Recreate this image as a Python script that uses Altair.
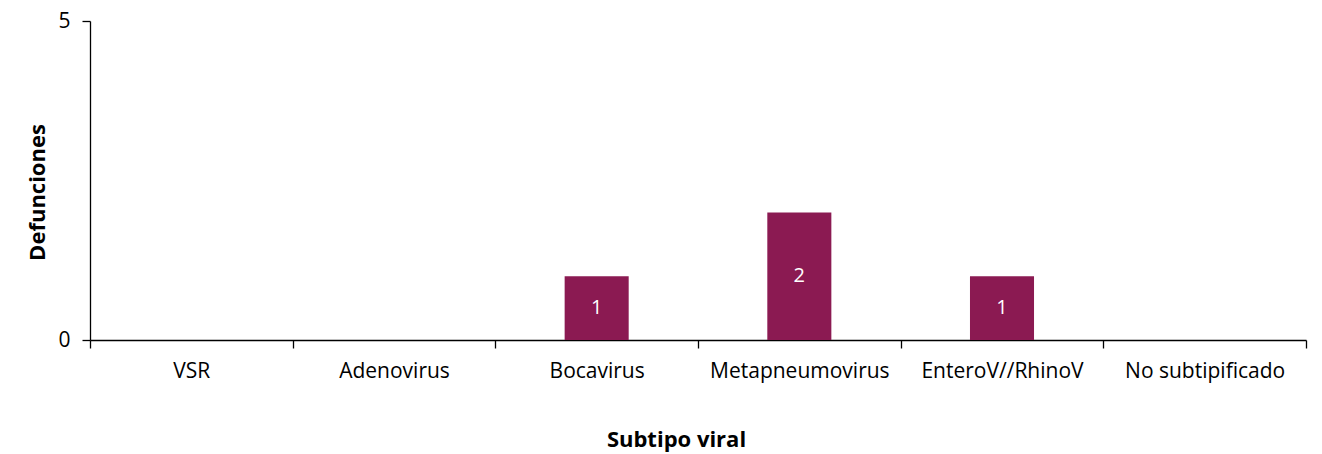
import altair as alt
import pandas as pd

categories = ["VSR", "Adenovirus", "Bocavirus", "Metapneumovirus", "EnteroV//RhinoV", "No subtipificado"]
defunciones = [0, 0, 1, 2, 1, 0]

df = pd.DataFrame({"cat": categories, "val": defunciones})
df["half"] = df["val"] / 2

FONT = "Open Sans"

x_axis = alt.Axis(
    title="Subtipo viral",
    labelAngle=0,
    labelFontSize=21,
    labelColor="#000000",
    labelFont=FONT,
    labelPadding=12,
    tickBand="extent",
    tickSize=8,
    tickColor="#000000",
    tickWidth=1.3,
    domainColor="#000000",
    domainWidth=1.3,
    grid=False,
    titleFont=FONT,
    titleFontSize=22,
    titleFontWeight="bold",
    titleColor="#000000",
    titleX=586,
    titleY=99,
    titleBaseline="middle",
    titleAnchor="middle",
    titleAlign="center",
)

y_axis = alt.Axis(
    title="Defunciones",
    values=[0, 5],
    format="d",
    grid=False,
    labelFontSize=21,
    labelColor="#000000",
    labelFont=FONT,
    labelPadding=12,
    tickSize=8,
    tickColor="#000000",
    tickWidth=1.3,
    domainColor="#000000",
    domainWidth=1.3,
    titleFont=FONT,
    titleFontSize=22,
    titleFontWeight="bold",
    titleColor="#000000",
    titleX=-53,
    titleY=171,
    titleAngle=-90,
    titleBaseline="middle",
    titleAlign="center",
)

x_scale = alt.Scale(paddingInner=0, paddingOuter=0)
y_scale = alt.Scale(domain=[0, 5], nice=False)

bars = alt.Chart(df).mark_bar(color="#8B1A52", width=alt.RelativeBandSize(0.316)).encode(
    x=alt.X("cat:N", sort=categories, scale=x_scale, axis=x_axis),
    y=alt.Y("val:Q", scale=y_scale, axis=y_axis),
)

labels = alt.Chart(df).transform_filter(alt.datum.val > 0).mark_text(
    color="white", fontSize=20, font=FONT, baseline="middle"
).encode(
    x=alt.X("cat:N", sort=categories, scale=x_scale, axis=x_axis),
    y=alt.Y("half:Q", scale=y_scale, axis=y_axis),
    text=alt.Text("val:Q"),
)

chart = (
    alt.layer(bars, labels)
    .properties(width=1216, height=319, background="white",
                padding={"left": 82, "top": 13, "right": 8, "bottom": 114},
                autosize=alt.AutoSizeParams(type="none"))
    .configure_view(stroke=None)
)

chart.save("out.html", embed_options={"renderer": "svg", "actions": False})
